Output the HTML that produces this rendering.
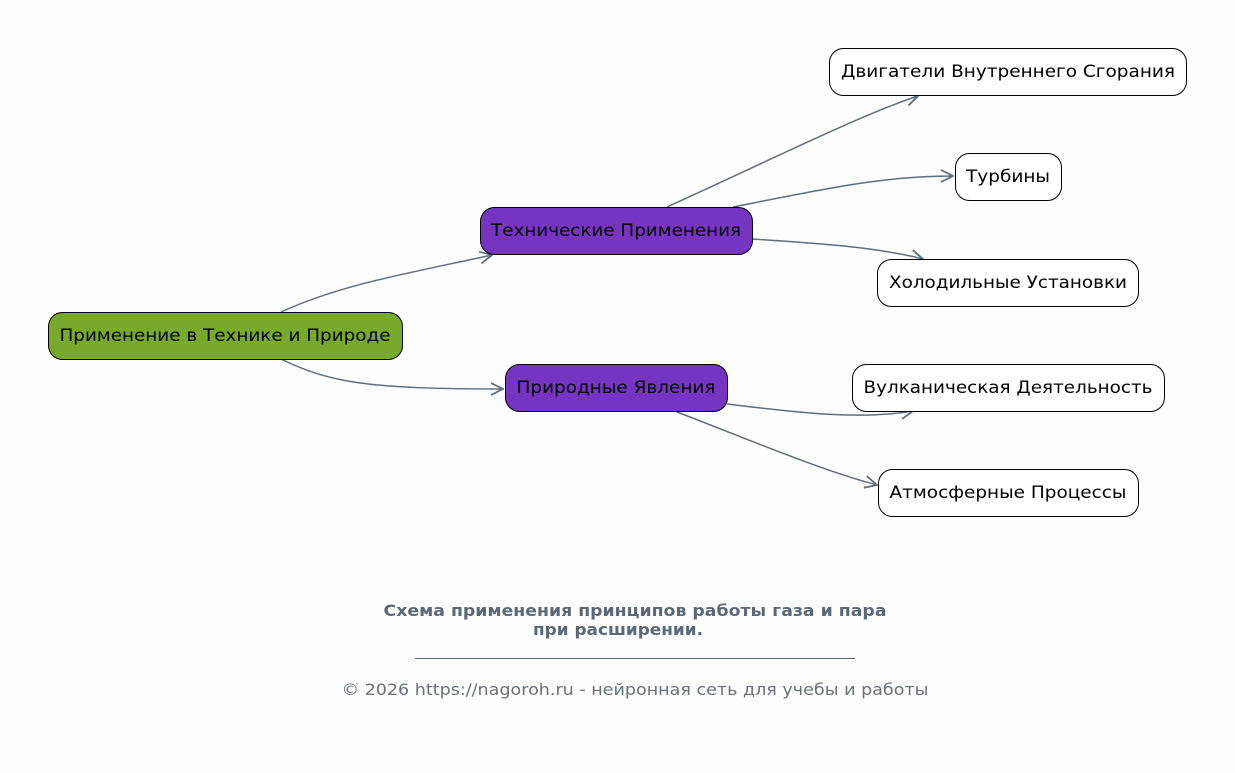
<!DOCTYPE html>
<html><head><meta charset="utf-8"><style>
html,body{margin:0;padding:0;background:#fdfdfd;}
svg{display:block;font-family:"DejaVu Sans","Liberation Sans",sans-serif;}
</style></head><body>
<svg width="1235" height="773" viewBox="0 0 1235 773">
<defs>
<marker id="a" viewBox="0 0 14 14" refX="13" refY="7" markerWidth="14" markerHeight="14" markerUnits="userSpaceOnUse" orient="auto">
<path d="M1,1 L13,7 L1,13" fill="none" stroke="#5f6e7c" stroke-width="1.8"/>
</marker>
</defs>
<g fill="none" stroke="#5f6e7c" stroke-width="1.5" marker-end="url(#a)">
<path d="M281,312 C340,285 400,275 492,255"/>
<path d="M281,359 C330,383 370,389 503,389"/>
<path d="M667,207 C760,165 860,115 918,96"/>
<path d="M733,207 C820,190 880,176 953,176"/>
<path d="M752,239 C830,244 880,248 923,259"/>
<path d="M727,404 C800,413 860,420 913,411"/>
<path d="M677,412 C750,440 820,470 877,485"/>
</g>
<g stroke="#000" stroke-width="1">
<rect x="48.5" y="312.5" width="354" height="47" rx="14" fill="#78a92a"/>
<rect x="480.5" y="207.5" width="272" height="47" rx="14" fill="#7634c3"/>
<rect x="505.5" y="364.5" width="222" height="47" rx="14" fill="#7634c3"/>
<rect x="829.5" y="48.5" width="357" height="47" rx="14" fill="#fff"/>
<rect x="955.5" y="153.5" width="106" height="47" rx="14" fill="#fff"/>
<rect x="877.5" y="259.5" width="261" height="47" rx="14" fill="#fff"/>
<rect x="852.5" y="364.5" width="312" height="47" rx="14" fill="#fff"/>
<rect x="878.5" y="469.5" width="260" height="47" rx="14" fill="#fff"/>
</g>
<g font-size="17" fill="#000" text-anchor="middle">
<text x="225" y="341" textLength="331" lengthAdjust="spacingAndGlyphs">Применение в Технике и Природе</text>
<text x="616" y="236" textLength="250" lengthAdjust="spacingAndGlyphs">Технические Применения</text>
<text x="616" y="393" textLength="199" lengthAdjust="spacingAndGlyphs">Природные Явления</text>
<text x="1008" y="77" textLength="334" lengthAdjust="spacingAndGlyphs">Двигатели Внутреннего Сгорания</text>
<text x="1008" y="182" textLength="84" lengthAdjust="spacingAndGlyphs">Турбины</text>
<text x="1008" y="288" textLength="238" lengthAdjust="spacingAndGlyphs">Холодильные Установки</text>
<text x="1008" y="393" textLength="289" lengthAdjust="spacingAndGlyphs">Вулканическая Деятельность</text>
<text x="1008" y="498" textLength="237" lengthAdjust="spacingAndGlyphs">Атмосферные Процессы</text>
</g>
<g fill="#5a6878" text-anchor="middle" font-weight="bold" font-size="16">
<text x="635" y="616" textLength="503" lengthAdjust="spacingAndGlyphs">Схема применения принципов работы газа и пара</text>
<text x="618" y="635" textLength="170" lengthAdjust="spacingAndGlyphs">при расширении.</text>
</g>
<text x="635" y="695" font-size="16" fill="#66727f" text-anchor="middle" textLength="587" lengthAdjust="spacingAndGlyphs">© 2026 https://nagoroh.ru - нейронная сеть для учебы и работы</text>
<line x1="415" y1="658.5" x2="855" y2="658.5" stroke="#5a6878" stroke-width="1"/>
</svg>
</body></html>
